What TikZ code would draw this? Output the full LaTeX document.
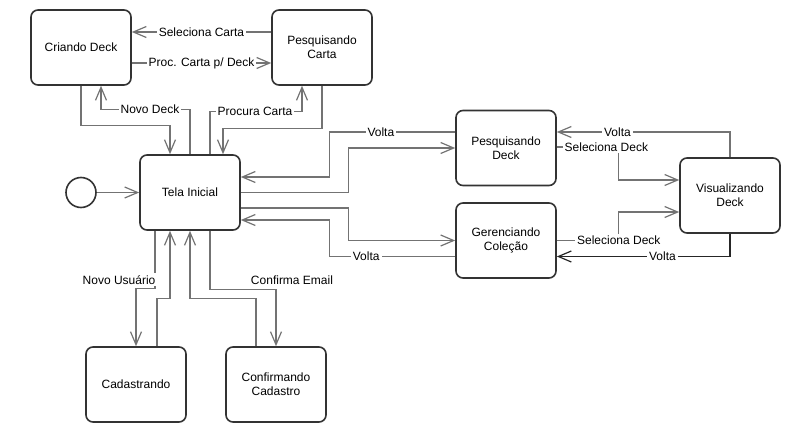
\documentclass[tikz,border=0pt]{standalone}
\usepackage{fontspec}
\setmainfont{Liberation Sans}
\usepackage{tikz}
\usetikzlibrary{arrows.meta, positioning, calc}
\tikzset{
  block/.style = {draw=black!80, line width=1.6pt, rounded corners=7pt, align=center, minimum width=100pt, minimum height=75pt, font=\fontsize{12}{14}\selectfont},
  arrow/.style = {-{Straight Barb[length=13pt,width=11pt]}, draw=black!55, line width=1.2pt}
}

\begin{document}
\begin{tikzpicture}[x=1pt, y=-1pt]
  \colorlet{lineDark}{black!85}
  \tikzset{
    labelStyle/.style={font=\fontsize{12}{14}\selectfont, fill=white, inner sep=2pt, text=black}
  }
  \useasboundingbox (0,0) rectangle (806,442);

  % estados
  \node[block] (criando)  at (81,47.5)   {Criando Deck};
  \node[block] (pcarta)   at (322,47.5)  {Pesquisando\\Carta};
  \node[block] (tela)     at (190,192.5) {Tela Inicial};
  \node[draw=black!80, line width=1.6pt, circle, minimum size=30pt] (inicio) at (81,192.5) {};
  \node[block] (pdeck)    at (506,148)   {Pesquisando\\Deck};
  \node[block] (gerencia) at (506,240.5) {Gerenciando\\Coleção};
  \node[block] (visual)   at (730,195.5) {Visualizando\\Deck};
  \node[block] (cadastro) at (136,384.5) {Cadastrando};
  \node[block] (confirma) at (276,384.5) {Confirmando\\Cadastro};

  % topo
  \draw[arrow] ([yshift=15.5pt]pcarta.west) -- node[labelStyle]{Seleciona Carta} ([yshift=15.5pt]criando.east);
  \draw[arrow] ([yshift=-15.5pt]criando.east) -- node[labelStyle]{Proc. Carta p/ Deck} ([yshift=-15.5pt]pcarta.west);
  \draw[arrow] (criando.south) -- ++(0,40) -| ([xshift=-20pt]tela.north);
  \draw[arrow] (tela.north) -- ++(0,-45) -| node[labelStyle,pos=0.225]{Novo Deck} ([xshift=20pt]criando.south);
  \draw[arrow] ([xshift=20pt]tela.north) -- ++(0,-43) -| node[labelStyle,pos=0.245]{Procura Carta} ([xshift=-20pt]pcarta.south);
  \draw[arrow] (pcarta.south) -- ++(0,43) -| ([xshift=33pt]tela.north);
  \draw[arrow] (inicio) -- (tela);

  % direita
  \draw[arrow] ([yshift=16pt]pdeck.west) -- node[labelStyle,pos=0.59]{Volta} ++(-126,0) |- ([yshift=15.5pt]tela.east);
  \draw[arrow] (tela.east) -- ++(108,0) |- (pdeck.west);
  \draw[arrow] ([yshift=-15.5pt]tela.east) -- ++(108,0) |- (gerencia.west);
  \draw[arrow] ([yshift=-16pt]gerencia.west) -- node[labelStyle,pos=0.706]{Volta} ++(-126,0) |- ([yshift=-27.5pt]tela.east);
  \draw[arrow] ([yshift=1pt]pdeck.east) -- node[labelStyle,pos=0.8]{Seleciona Deck} ++(62,0) |- ([yshift=15.5pt]visual.west);
  \draw[arrow] (visual.north) |- node[labelStyle,pos=0.825]{Volta} ([yshift=16pt]pdeck.east);
  \draw[arrow] (gerencia.east) -- node[labelStyle,at end]{Seleciona Deck} ++(62,0) |- ([yshift=-16.5pt]visual.west);
  \draw[arrow, draw=lineDark] (visual.south) |- node[labelStyle,pos=0.695]{Volta} ([yshift=-16pt]gerencia.east);

  % baixo
  \draw[arrow] ([xshift=-35pt]tela.south) -- node[labelStyle,pos=0.845,anchor=east,xshift=3pt]{Novo Usuário} ++(0,58) -| (cadastro.north);
  \draw[arrow] ([xshift=21pt]cadastro.north) -- ++(0,-48) -| ([xshift=-20pt]tela.south);
  \draw[arrow] ([xshift=-20pt]confirma.north) -- ++(0,-48) -| (tela.south);
  \draw[arrow] ([xshift=20pt]tela.south) -- ++(0,59) -| node[labelStyle,pos=0.5,anchor=south,xshift=16pt,yshift=3pt]{Confirma Email} (confirma.north);
\end{tikzpicture}
\end{document}
